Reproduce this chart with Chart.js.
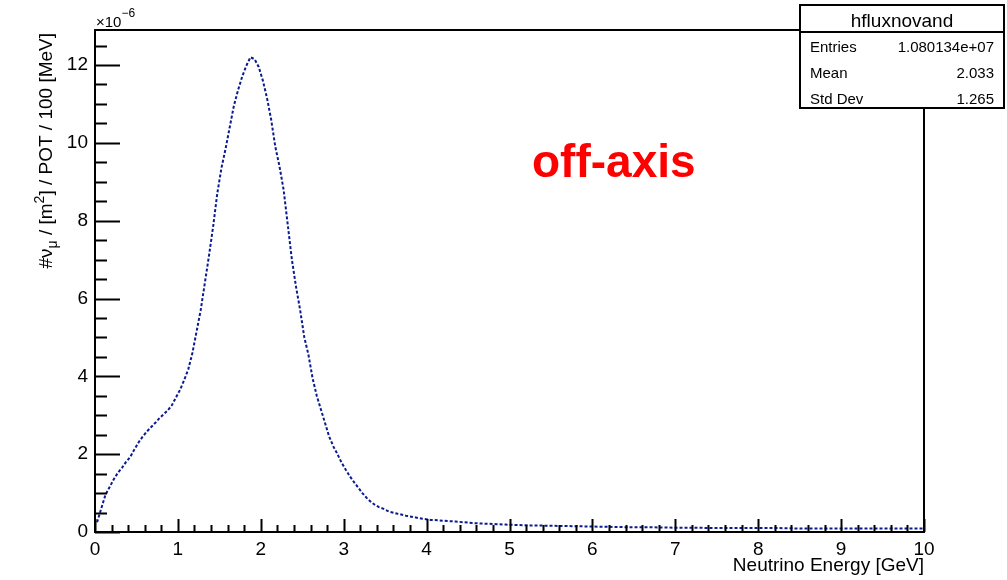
<!DOCTYPE html>
<html>
<head>
<meta charset="utf-8">
<script src="https://cdn.jsdelivr.net/npm/chart.js@4"></script>
<style>
html, body { margin: 0; padding: 0; background: #fff; }
</style>
</head>
<body>
<canvas id="chart" width="1007" height="580"></canvas>
<script>
// bin centres [GeV]
const energy = [
  0.025, 0.075, 0.125, 0.175, 0.225, 0.275, 0.325, 0.375, 0.425, 0.475,
  0.525, 0.575, 0.625, 0.675, 0.725, 0.775, 0.825, 0.875, 0.925, 0.975,
  1.025, 1.075, 1.125, 1.175, 1.225, 1.275, 1.325, 1.375, 1.425, 1.475,
  1.525, 1.575, 1.625, 1.675, 1.725, 1.775, 1.825, 1.875, 1.925, 1.975,
  2.025, 2.075, 2.125, 2.175, 2.225, 2.275, 2.325, 2.375, 2.425, 2.475,
  2.525, 2.575, 2.625, 2.675, 2.725, 2.775, 2.825, 2.875, 2.925, 2.975,
  3.025, 3.075, 3.125, 3.175, 3.225, 3.275, 3.325, 3.375, 3.425, 3.475,
  3.55, 3.65, 3.75, 3.85, 3.95, 4.05, 4.15, 4.25, 4.35, 4.45,
  4.55, 4.65, 4.75, 4.85, 4.95, 5.25, 5.5, 5.75, 6.0, 6.25,
  6.5, 6.75, 7.0, 7.25, 7.5, 7.75, 8.0, 8.25, 8.5, 8.75,
  9.0, 9.25, 9.5, 9.75, 10.0
];
// flux, in units of 1e-6
const flux = [
  0.25, 0.6, 0.95, 1.15, 1.35, 1.52, 1.65, 1.8, 1.93, 2.12,
  2.3, 2.45, 2.58, 2.69, 2.8, 2.92, 3.02, 3.12, 3.25, 3.45,
  3.65, 3.9, 4.18, 4.6, 5.15, 5.7, 6.4, 7.1, 7.85, 8.7,
  9.35, 9.85, 10.4, 10.95, 11.35, 11.7, 11.98, 12.2, 12.15, 11.95,
  11.6, 11.15, 10.6, 9.9, 9.4, 8.8, 7.9, 7.0, 6.3, 5.7,
  5.0, 4.55, 3.95, 3.5, 3.15, 2.8, 2.45, 2.2, 2.0, 1.78,
  1.6, 1.43, 1.28, 1.14, 1.0, 0.88, 0.78, 0.7, 0.64, 0.6,
  0.52, 0.47, 0.42, 0.38, 0.34, 0.31, 0.3, 0.28, 0.27, 0.25,
  0.23, 0.22, 0.21, 0.2, 0.19, 0.17, 0.16, 0.15, 0.14, 0.13,
  0.12, 0.12, 0.11, 0.11, 0.1, 0.1, 0.1, 0.1, 0.09, 0.09,
  0.09, 0.09, 0.09, 0.09, 0.09
];
const xTicks = [0, 1, 2, 3, 4, 5, 6, 7, 8, 9, 10];
const yTicks = [0, 2, 4, 6, 8, 10, 12];
const statNames = ['Entries', 'Mean', 'Std Dev'];
const statValues = ['1.080134e+07', '2.033', '1.265'];

const FONT = "'Liberation Sans', Arial, Helvetica, sans-serif";

// ROOT style frame: ticks inside, titles, stats box
const rootFrame = {
  id: 'rootFrame',
  afterDraw(chart) {
    const ctx = chart.ctx;
    const a = chart.chartArea;
    const xs = chart.scales.x, ys = chart.scales.y;
    ctx.save();
    ctx.strokeStyle = '#000';
    ctx.lineWidth = 2;
    ctx.strokeRect(a.left, a.top, a.right - a.left, a.bottom - a.top);

    // y ticks (major every 2, minor every 0.5)
    ctx.beginPath();
    for (let v = 0; v <= ys.max + 1e-9; v += 0.5) {
      const py = Math.round(ys.getPixelForValue(v)) + 0.5;
      const len = (Math.abs(v % 2) < 1e-9) ? 25 : 12;
      ctx.moveTo(a.left, py);
      ctx.lineTo(a.left + len, py);
    }
    // x ticks (major every 1, minor every 0.2)
    for (let i = 0; i <= 50; i++) {
      const px = Math.round(xs.getPixelForValue(i * 0.2)) + 0.5;
      const len = (i % 5 === 0) ? 13 : 7;
      ctx.moveTo(px, a.bottom);
      ctx.lineTo(px, a.bottom - len);
    }
    ctx.stroke();

    ctx.fillStyle = '#000';
    // x10^-6
    ctx.textAlign = 'left';
    ctx.textBaseline = 'alphabetic';
    ctx.font = '15px ' + FONT;
    ctx.fillText('\u00d710', 96, 27);
    const w10 = ctx.measureText('\u00d710').width;
    ctx.font = '12px ' + FONT;
    ctx.fillText('\u22126', 96 + w10, 17);

    // x title
    ctx.font = '19px ' + FONT;
    ctx.textAlign = 'right';
    ctx.fillText('Neutrino Energy [GeV]', a.right, 571);

    // y title, rotated, right-aligned to frame top
    const parts = [
      { t: '#\u03bd', size: 19, dy: 0 },
      { t: '\u03bc', size: 14, dy: 5 },
      { t: ' / [m', size: 19, dy: 0 },
      { t: '2', size: 14, dy: -8 },
      { t: '] / POT / 100 [MeV]', size: 19, dy: 0 }
    ];
    let total = 0;
    parts.forEach(p => { ctx.font = p.size + 'px ' + FONT; p.w = ctx.measureText(p.t).width; total += p.w; });
    ctx.translate(52, a.top + 3);
    ctx.rotate(-Math.PI / 2);
    ctx.textAlign = 'left';
    let cx = -total;
    parts.forEach(p => {
      ctx.font = p.size + 'px ' + FONT;
      ctx.fillText(p.t, cx, p.dy);
      cx += p.w;
    });
    ctx.setTransform(1, 0, 0, 1, 0, 0);

    // off-axis label
    ctx.fillStyle = '#ff0000';
    ctx.font = 'bold 46px ' + FONT;
    ctx.textAlign = 'left';
    ctx.fillText('off-axis', 532, 177);

    // stats box
    const bx = 800, by = 5, bw = 204, bh = 103;
    ctx.fillStyle = '#fff';
    ctx.fillRect(bx, by, bw, bh);
    ctx.strokeStyle = '#000';
    ctx.lineWidth = 2;
    ctx.strokeRect(bx, by, bw, bh);
    ctx.beginPath();
    ctx.moveTo(bx, 32);
    ctx.lineTo(bx + bw, 32);
    ctx.stroke();
    ctx.fillStyle = '#000';
    ctx.font = '19px ' + FONT;
    ctx.textAlign = 'center';
    ctx.fillText('hfluxnovand', bx + bw / 2, 27);
    ctx.font = '15px ' + FONT;
    statNames.forEach((n, i) => {
      const yy = 52 + i * 26;
      ctx.textAlign = 'left';
      ctx.fillText(n, 810, yy);
      ctx.textAlign = 'right';
      ctx.fillText(statValues[i], 994, yy);
    });
    ctx.restore();
  }
};

new Chart(document.getElementById('chart'), {
  type: 'line',
  data: {
    datasets: [{
      data: energy.map((e, i) => ({ x: e, y: flux[i] })),
      borderColor: '#0a1a8f',
      borderWidth: 2,
      borderDash: [3, 2],
      pointRadius: 0,
      tension: 0,
      fill: false
    }]
  },
  options: {
    responsive: false,
    animation: false,
    devicePixelRatio: 1,
    layout: { padding: { left: 0, right: 83, top: 30, bottom: 0 } },
    plugins: { legend: { display: false }, tooltip: { enabled: false } },
    scales: {
      x: {
        type: 'linear', min: 0, max: 10,
        afterFit: s => { s.height = 48; },
        afterBuildTicks: s => { s.ticks = xTicks.map(v => ({ value: v })); },
        grid: { display: false, drawTicks: false },
        border: { display: false },
        ticks: { color: '#000', font: { family: FONT, size: 19 }, padding: 6, maxRotation: 0 }
      },
      y: {
        min: 0, max: 12.9,
        afterFit: s => { s.width = 95; },
        afterBuildTicks: s => { s.ticks = yTicks.map(v => ({ value: v })); },
        grid: { display: false, drawTicks: false },
        border: { display: false },
        ticks: { color: '#000', font: { family: FONT, size: 19 }, padding: 7 }
      }
    }
  },
  plugins: [rootFrame]
});
</script>
</body>
</html>
